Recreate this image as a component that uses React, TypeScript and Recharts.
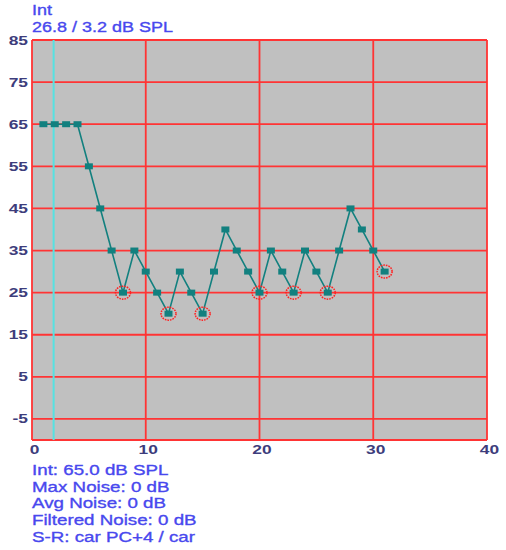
import React from 'react';
import { LineChart, Line, XAxis, YAxis, CartesianGrid, ReferenceLine } from 'recharts';

// session index along the x axis
const sessions = [1, 2, 3, 4, 5, 6, 7, 8, 9, 10, 11, 12, 13, 14, 15, 16, 17, 18, 19, 20, 21, 22, 23, 24, 25, 26, 27, 28, 29, 30, 31];
// level in dB
const levels = [65, 65, 65, 65, 55, 45, 35, 25, 35, 30, 25, 20, 30, 25, 20, 30, 40, 35, 30, 25, 35, 30, 25, 35, 30, 25, 35, 45, 40, 35, 30];
// sessions marked with a red ring
const circled = [8, 12, 15, 20, 23, 26, 31];

const xTicks = [0, 10, 20, 30, 40];
const yTicks = [-5, 5, 15, 25, 35, 45, 55, 65, 75, 85];
const cursorX = 1.9;

const headerLines = ['Int', '26.8 / 3.2 dB SPL'];
const footerLines = [
    'Int: 65.0 dB SPL',
    'Max Noise: 0 dB',
    'Avg Noise: 0 dB',
    'Filtered Noise: 0 dB',
    'S-R: car PC+4 / car'
];

const data = sessions.map((s, i) => ({ x: s, y: levels[i], ring: circled.includes(s) }));

const TEAL = '#12807f';
const GRID = '#ff3434';
const LABEL = '#4848ee';
const TICK = '#3d3d7c';
const FONT = '"Liberation Sans", Arial, sans-serif';

const Marker = (props: any) => {
    const { cx, cy, payload, index } = props;
    if (cx == null || cy == null) return <g key={index} />;
    return (
        <g key={index}>
            {payload.ring && (
                <ellipse cx={cx} cy={cy} rx={7.5} ry={6.5} fill="none" stroke="#ff2020" strokeWidth={1.5} strokeDasharray="1.6 1" />
            )}
            <rect x={cx - 4} y={cy - 3} width={8} height={6} fill={TEAL} />
        </g>
    );
};

const YTick = (props: any) => {
    const { y, payload } = props;
    return (
        <text transform={`translate(28,${y + 4.5}) scale(1.45,1)`} textAnchor="end" fontSize={12} fontWeight="bold" fill={TICK} fontFamily={FONT}>
            {payload.value}
        </text>
    );
};

const XTick = (props: any) => {
    const { x, payload } = props;
    return (
        <text transform={`translate(${x + 2.5},453.5) scale(1.45,1)`} textAnchor="middle" fontSize={12} fontWeight="bold" fill={TICK} fontFamily={FONT}>
            {payload.value}
        </text>
    );
};

export default function App() {
    return (
        <div style={{ position: 'absolute', left: 0, top: 0, width: 506, height: 550, background: '#fff' }}>
            <LineChart width={506} height={550} data={data} margin={{ top: 40, right: 19, bottom: 0, left: 0 }}>
                <CartesianGrid fill="#c0c0c0" stroke={GRID} strokeWidth={1.8} strokeOpacity={1} />
                <XAxis
                    dataKey="x"
                    type="number"
                    domain={[0, 40]}
                    ticks={xTicks}
                    height={110}
                    axisLine={false}
                    tickLine={false}
                    tick={<XTick />}
                    interval={0}
                />
                <YAxis
                    type="number"
                    domain={[-10, 85]}
                    ticks={yTicks}
                    width={32}
                    axisLine={false}
                    tickLine={false}
                    tick={<YTick />}
                    interval={0}
                />
                <ReferenceLine x={cursorX} stroke="#55e2e2" strokeWidth={2} />
                <Line
                    dataKey="y"
                    stroke={TEAL}
                    strokeWidth={1.6}
                    dot={Marker}
                    activeDot={false}
                    isAnimationActive={false}
                />
            </LineChart>
            <svg width={506} height={550} style={{ position: 'absolute', left: 0, top: 0, pointerEvents: 'none' }}>
                {headerLines.map((t, i) => (
                    <text key={t} transform={`translate(32,${15 + i * 17.3}) scale(1.2,1)`} fontSize={15} fill={LABEL} stroke={LABEL} strokeWidth={0.35} fontFamily={FONT}>
                        {t}
                    </text>
                ))}
                {footerLines.map((t, i) => (
                    <text key={t} transform={`translate(32,${475 + i * 16.7}) scale(1.25,1)`} fontSize={15} fill={LABEL} stroke={LABEL} strokeWidth={0.35} fontFamily={FONT}>
                        {t}
                    </text>
                ))}
            </svg>
        </div>
    );
}
